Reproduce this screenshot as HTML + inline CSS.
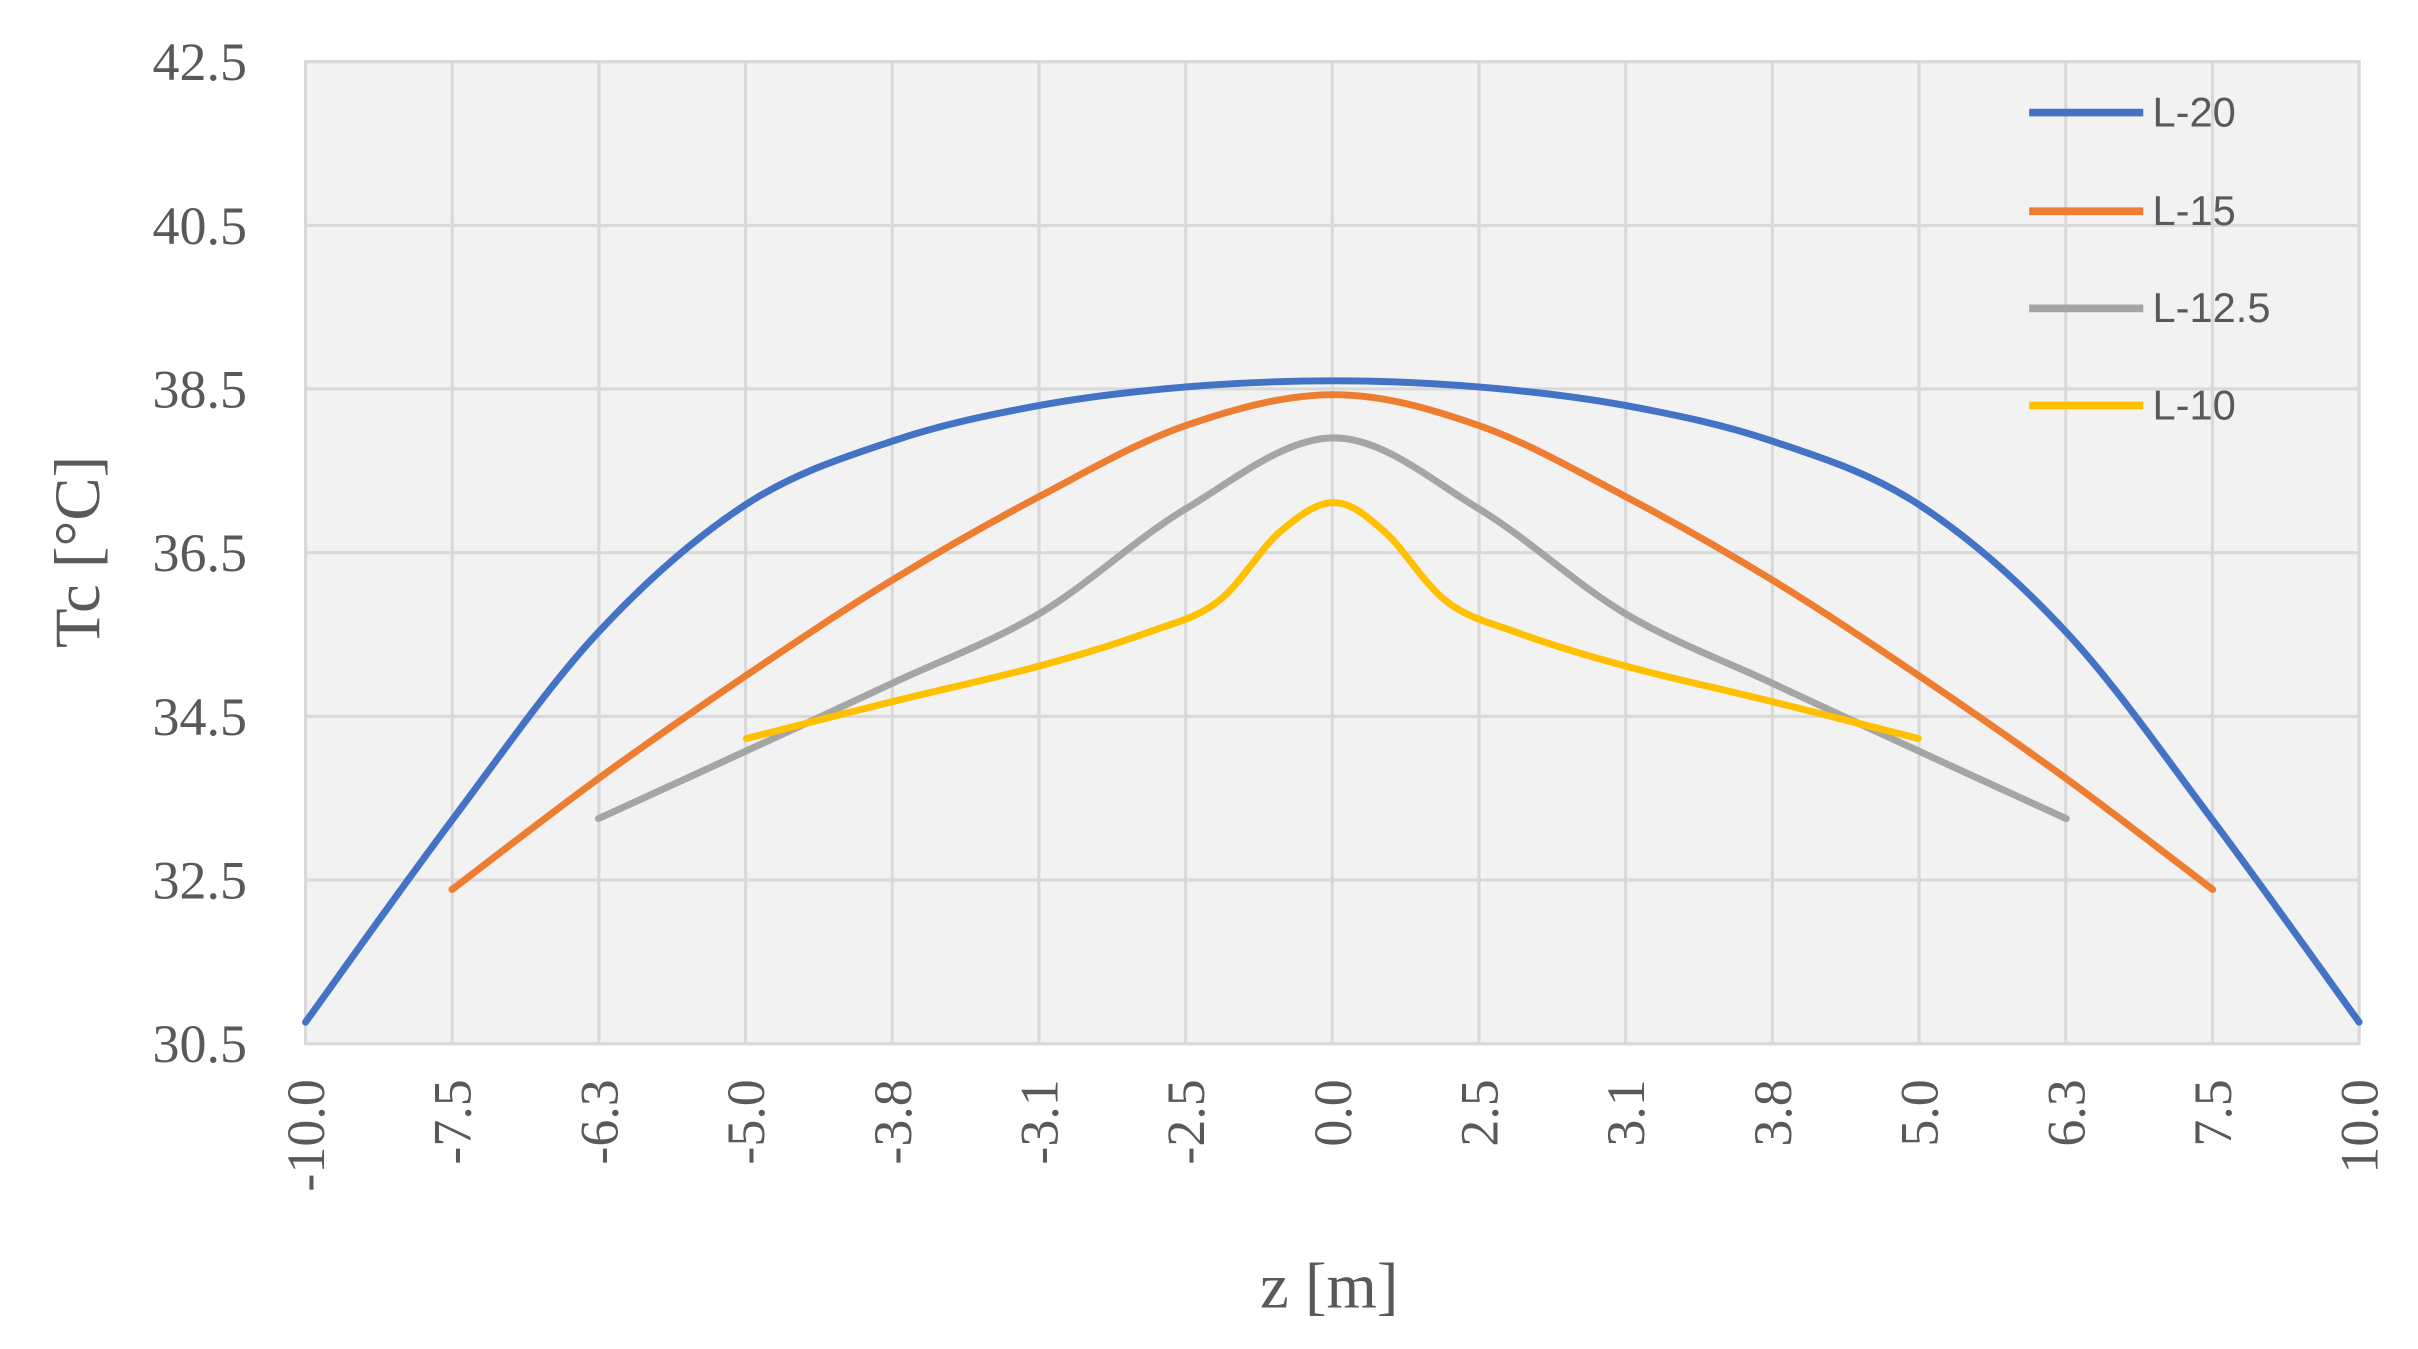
<!DOCTYPE html>
<html><head><meta charset="utf-8"><style>html,body{margin:0;padding:0;background:#fff}svg{display:block}</style></head>
<body>
<svg id="s" width="2418" height="1349" viewBox="0 0 1568 875" xmlns="http://www.w3.org/2000/svg" font-family="Liberation Serif, serif">
<rect x="198" y="40" width="1332" height="637" fill="#f2f2f2" stroke="#d9d9d9" stroke-width="2"/>
<g id="grid" stroke="#d9d9d9" stroke-width="2"></g>
<g id="ylab" fill="#595959" font-size="35" text-anchor="end"></g>
<g id="xlab" fill="#595959" font-size="35" text-anchor="end"></g>
<g id="series" fill="none" stroke-width="4.5" stroke-linecap="round" stroke-linejoin="round"></g>
<text x="0" y="0" transform="translate(64,358) rotate(-90)" text-anchor="middle" font-size="42" fill="#595959">Tc [°C]</text>
<text x="862" y="848" text-anchor="middle" font-size="42" fill="#595959">z [m]</text>
<g font-family="Liberation Sans, sans-serif" font-size="27" fill="#595959">
<line x1="1316" y1="73" x2="1390" y2="73" stroke="#4472c4" stroke-width="5"/><text x="1396" y="82">L-20</text>
<line x1="1316" y1="137" x2="1390" y2="137" stroke="#ed7d31" stroke-width="5"/><text x="1396" y="146">L-15</text>
<line x1="1316" y1="200" x2="1390" y2="200" stroke="#a5a5a5" stroke-width="5"/><text x="1396" y="209">L-12.5</text>
<line x1="1316" y1="263" x2="1390" y2="263" stroke="#ffc000" stroke-width="5"/><text x="1396" y="272">L-10</text>
</g>
</svg>
<script>
const NS="http://www.w3.org/2000/svg";
function el(t,a,p,txt){const e=document.createElementNS(NS,t);for(const k in a)e.setAttribute(k,a[k]);if(txt!=null)e.textContent=txt;document.getElementById(p).appendChild(e);return e;}
const X0=198,DX=(1530-198)/14;
const ys=[40,146.2,252.3,358.5,464.7,570.8,677], yl=["42.5","40.5","38.5","36.5","34.5","32.5","30.5"];
ys.forEach((y,i)=>{el("line",{x1:198,x2:1530,y1:y,y2:y},"grid");el("text",{x:160,y:y+12},"ylab",yl[i]);});
const xl=["-10.0","-7.5","-6.3","-5.0","-3.8","-3.1","-2.5","0.0","2.5","3.1","3.8","5.0","6.3","7.5","10.0"];
xl.forEach((t,i)=>{const x=X0+i*DX;el("line",{x1:x,x2:x,y1:40,y2:677},"grid");el("text",{transform:`translate(${x+12},700) rotate(-90)`},"xlab",t);});
function sym(half){const r=half.slice();for(let i=half.length-2;i>=0;i--)r.push([1530+198-half[i][0],half[i][1]]);return r;}
function cr(p){let d=`M${p[0][0]},${p[0][1]}`;for(let i=0;i<p.length-1;i++){const a=p[Math.max(0,i-1)],b=p[i],c=p[i+1],e=p[Math.min(p.length-1,i+2)];
d+=` C${b[0]+(c[0]-a[0])/6},${b[1]+(c[1]-a[1])/6} ${c[0]-(e[0]-b[0])/6},${c[1]-(e[1]-b[1])/6} ${c[0]},${c[1]}`;}return d;}
const S=[
["#4472c4",[[198,663],[293,532],[388,410],[484,327],[579,286],[674,263],[769,251],[865,247]]],
["#ed7d31",[[293,577],[388,505],[484,438],[579,376],[674,322],[769,276],[865,256]]],
["#a5a5a5",[[388,531],[484,487],[579,443],[674,398],[769,330],[865,284]]],
["#ffc000",[[484,479],[579,455],[674,432],[745,410],[790,390],[830,345],[865,326]]]];
S.forEach(([c,h])=>el("path",{d:cr(sym(h)),stroke:c},"series"));
</script>
</body></html>
